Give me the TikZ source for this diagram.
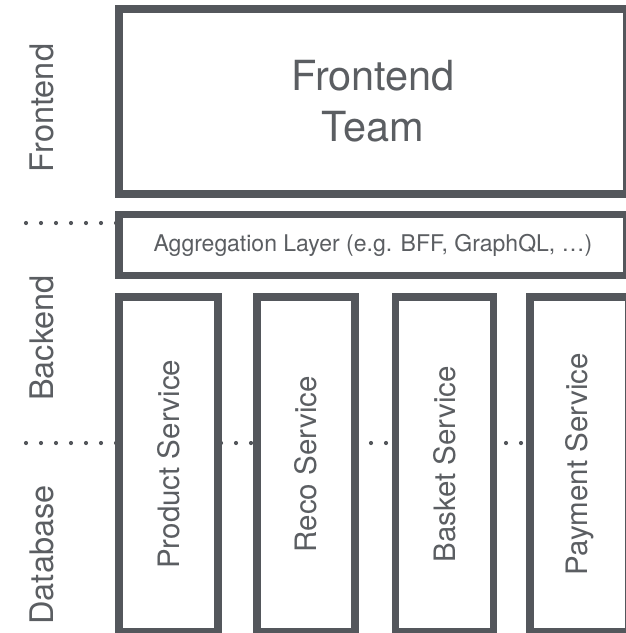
\documentclass[tikz,border=0pt]{standalone}
\usepackage{fontspec}
\setmainfont{TeX Gyre Heros}
\usepackage{xcolor}
\usetikzlibrary{calc}

\definecolor{boxgray}{HTML}{54575C}
\definecolor{txtgray}{HTML}{5B5E62}

\begin{document}
\begin{tikzpicture}[x=1pt,y=-1pt,
        box/.style={draw=boxgray, line width=7.5pt, fill=white, inner sep=0pt, text=txtgray},
        layer/.style={text=txtgray, rotate=90, anchor=base, font=\fontsize{32.5}{39}\selectfont},
        sep/.style={boxgray, line width=4.2pt, line cap=round, dash pattern=on 0pt off 15pt}]
        \useasboundingbox (0,0) rectangle (626,633);
        \clip (0,0) rectangle (626,633);
        \def\lx{53} %baseline of the layer names
        \def\bw{508} %width of the wide boxes
        \def\sy{464.25} %middle of the service boxes

        % layer names
        \node[layer] (lfront) at (\lx,108) {Frontend};
        \node[layer] (lback) at (\lx,338) {Backend};
        \node[layer] (ldb) at (\lx,555) {Database};

        % dotted layer borders, behind the boxes
        \coordinate (s1) at (26,223);
        \coordinate (e1) at (120,223);
        \coordinate (s2) at (26,443);
        \coordinate (e2) at (626,443);
        \draw[sep] (s1) -- (e1);
        \draw[sep] (s2) -- (e2);

        \node[box, minimum width=\bw, minimum height=185, align=center,
            font=\fontsize{41.5}{51}\selectfont] (team) at (373,101.5) {Frontend\\Team};
        \node[box, minimum width=\bw, minimum height=61] (agg) at (373,245) {};
        \node[text=txtgray, font=\fontsize{23}{28}\selectfont] (aggtxt) at (agg.center)
            {Aggregation Layer (e.g. BFF, GraphQL, …)};

        % one box per service
        \foreach \n/\x/\w/\t in {prod/168.5/99/Product Service, reco/306/98/Reco Service,
            basket/444.5/98/Basket Service, pay/579.5/99/Payment Service}
        {
            \node[box, rotate=90, minimum width=334.5, minimum height=\w,
                font=\fontsize{29.5}{35}\selectfont] (\n) at (\x,\sy) {\t};
        }
\end{tikzpicture}
\end{document}
